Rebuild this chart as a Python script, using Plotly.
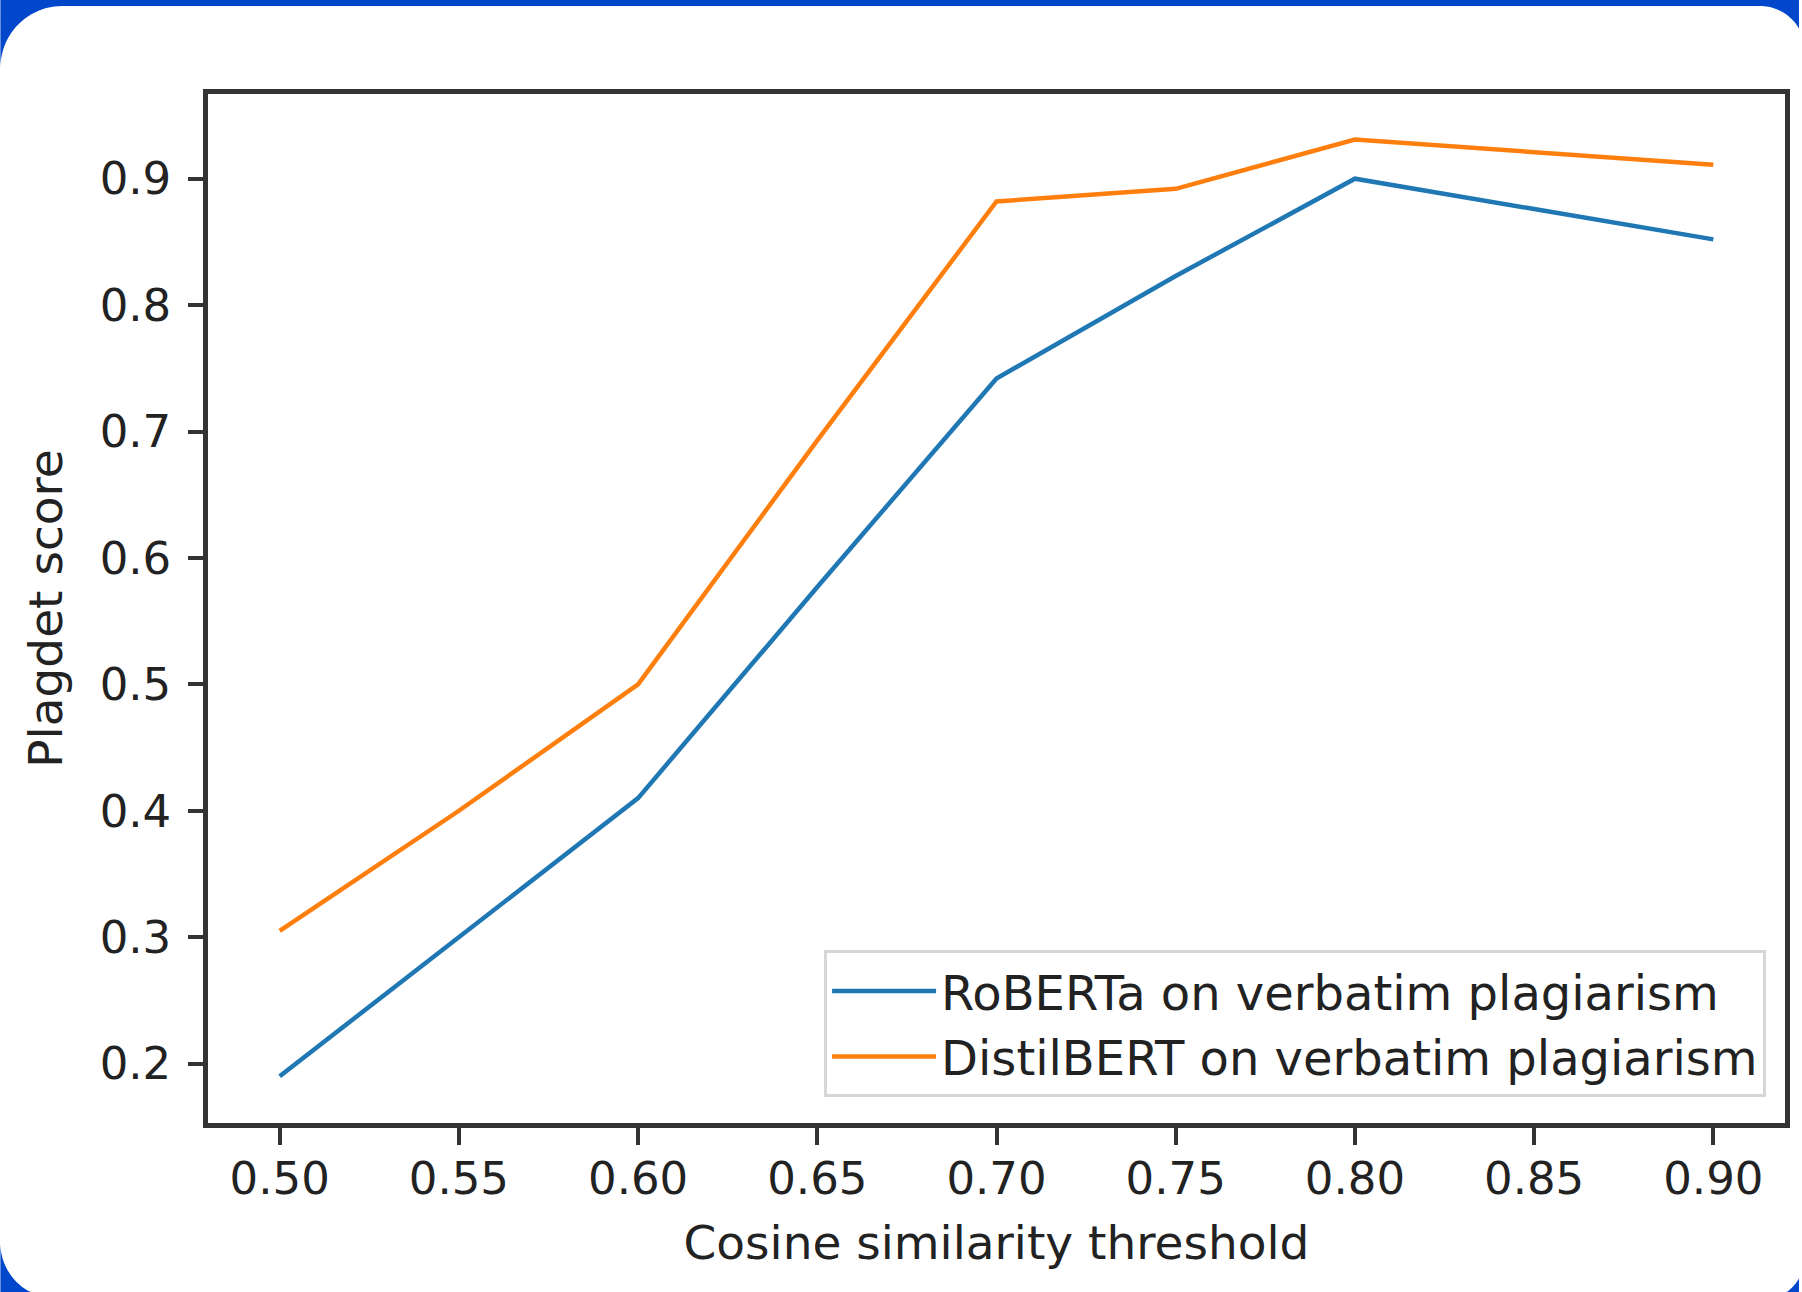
import math
import plotly.graph_objects as go

thresholds = [0.50, 0.55, 0.60, 0.65, 0.70, 0.75, 0.80, 0.85, 0.90]
roberta = [0.19, 0.30, 0.41, 0.577, 0.742, 0.823, 0.90, 0.876, 0.852]
distilbert = [0.305, 0.40, 0.50, 0.693, 0.882, 0.892, 0.931, 0.921, 0.911]
series_names = ["RoBERTa on verbatim plagiarism", "DistilBERT on verbatim plagiarism"]
x_ticks = [0.50, 0.55, 0.60, 0.65, 0.70, 0.75, 0.80, 0.85, 0.90]
x_tick_labels = ["0.50", "0.55", "0.60", "0.65", "0.70", "0.75", "0.80", "0.85", "0.90"]
y_ticks = [0.2, 0.3, 0.4, 0.5, 0.6, 0.7, 0.8, 0.9]
y_tick_labels = ["0.2", "0.3", "0.4", "0.5", "0.6", "0.7", "0.8", "0.9"]

W, H = 1802, 1292
L, R, T, B = 208, 1788, 94, 1123
FONT = "DejaVu Sans"
FS = 45
TXT = "#222222"
FRAME = "#0047cc"

fig = go.Figure()
fig.add_trace(go.Scatter(x=thresholds, y=roberta, mode="lines", name=series_names[0],
                         line=dict(color="#1f77b4", width=4.5)))
fig.add_trace(go.Scatter(x=thresholds, y=distilbert, mode="lines", name=series_names[1],
                         line=dict(color="#ff7f0e", width=4.5)))

def px(xp):
    return (xp - L) / (R - L)

def py(yp):
    return (B - yp) / (B - T)

def clamp_pt(x, y):
    return min(max(x, 0), W), min(max(y, 0), H)

def corner_piece(cx, cy, r, a0, a1, corner):
    """Blue area between a canvas corner and a rounded card corner arc."""
    pts = [corner]
    n = 24
    for i in range(n + 1):
        a = math.radians(a0 + (a1 - a0) * i / n)
        pts.append(clamp_pt(cx + r * math.cos(a), cy - r * math.sin(a)))
    d = "M " + " L ".join(f"{px(x)},{py(y)}" for x, y in pts) + " Z"
    fig.add_shape(type="path", xref="paper", yref="paper", path=d,
                  fillcolor=FRAME, line=dict(width=0), layer="below")

# top blue band
top = 6
fig.add_shape(type="rect", xref="paper", yref="paper",
              x0=px(0), x1=px(W), y0=py(0), y1=py(top),
              fillcolor=FRAME, line=dict(width=0), layer="below")
# rounded card corners
r_tl, r_tr, r_br, r_bl = 62, 45, 45, 55
x_left, x_right, y_bottom = 0, 1808, 1298
corner_piece(x_left + r_tl, top + r_tl, r_tl, 90, 180, (0, top))
corner_piece(x_right - r_tr, top + r_tr, r_tr, 90, 0, (W, top))
corner_piece(x_right - r_br, 1301 - r_br, r_br, 0, -90, (W, H))
corner_piece(x_left + r_bl, y_bottom - r_bl, r_bl, 180, 270, (0, H))

axis_common = dict(
    showline=True, linecolor="#333333", linewidth=4.5, mirror=True,
    ticks="outside", tickcolor="#333333", tickwidth=4,
    showgrid=False, zeroline=False,
    tickfont=dict(family=FONT, size=FS, color=TXT),
)

fig.update_xaxes(range=[0.48, 0.92], tickvals=x_ticks, ticktext=x_tick_labels,
                 ticklen=17, ticklabelstandoff=-5,
                 title=dict(text="Cosine similarity threshold",
                            font=dict(family=FONT, size=47, color=TXT), standoff=24),
                 **axis_common)
fig.update_yaxes(range=[0.153, 0.967], tickvals=y_ticks, ticktext=y_tick_labels,
                 ticklen=15, ticklabelstandoff=8,
                 title=dict(text="Plagdet score",
                            font=dict(family=FONT, size=47, color=TXT), standoff=24),
                 **axis_common)

fig.update_layout(
    width=W, height=H,
    margin=dict(l=L, r=W - R, t=T, b=H - B, pad=0),
    paper_bgcolor="white",
    plot_bgcolor="white",
    font=dict(family=FONT, size=FS, color=TXT),
    legend=dict(x=0.988, y=0.025, xanchor="right", yanchor="bottom",
                bgcolor="white", bordercolor="#d6d6d6", borderwidth=3,
                font=dict(family=FONT, size=48, color=TXT),
                itemwidth=104, tracegroupgap=0),
    showlegend=True,
)

fig.write_html("out.html", config={"displayModeBar": False},
               post_script="document.body.style.margin='0';document.body.style.overflow='hidden';")
